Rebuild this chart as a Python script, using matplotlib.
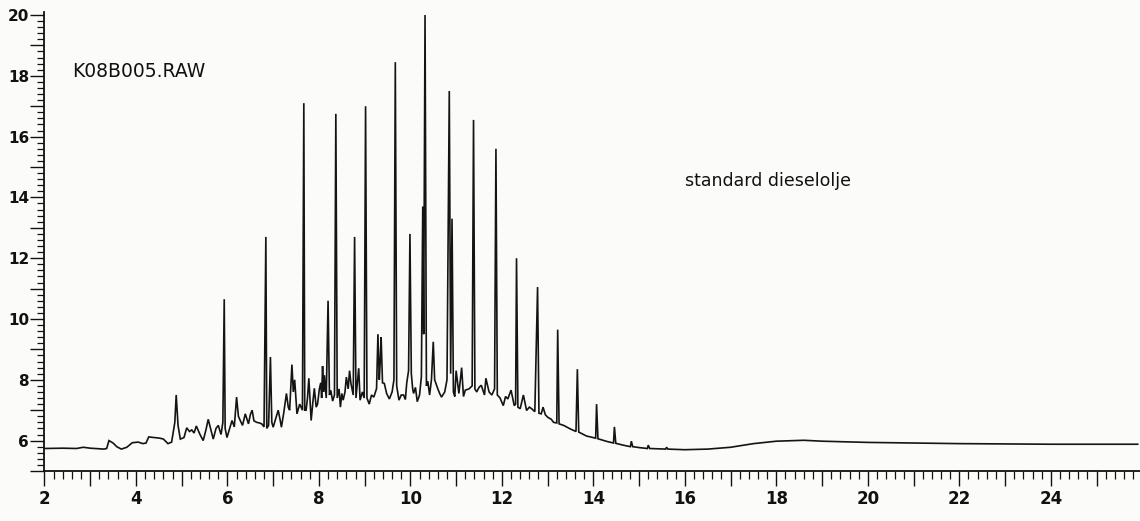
import matplotlib
matplotlib.use("Agg")
import matplotlib.pyplot as plt
from matplotlib.ticker import MultipleLocator, FuncFormatter

# chromatogram trace: retention time (min) and signal
retention_time = [
    2.00, 2.40, 2.70, 2.85, 3.00, 3.30, 3.36, 3.41, 3.50, 3.58, 3.68, 3.80, 3.92, 4.05,
    4.15, 4.22, 4.28, 4.40, 4.52, 4.60, 4.70, 4.78, 4.85, 4.88, 4.92, 4.97, 5.05, 5.11,
    5.17, 5.22, 5.27, 5.32, 5.40, 5.47, 5.53, 5.58, 5.63, 5.69, 5.75, 5.80, 5.86, 5.90,
    5.93, 5.95, 5.99, 6.04, 6.10, 6.15, 6.20, 6.24, 6.28, 6.33, 6.39, 6.46, 6.50, 6.54,
    6.58, 6.64, 6.70, 6.75, 6.80, 6.84, 6.86, 6.90, 6.94, 6.97, 7.00, 7.05, 7.11, 7.15,
    7.18, 7.23, 7.29, 7.33, 7.36, 7.41, 7.44, 7.47, 7.52, 7.58, 7.64, 7.67, 7.69, 7.72,
    7.75, 7.78, 7.83, 7.87, 7.90, 7.94, 7.97, 8.01, 8.04, 8.06, 8.08, 8.10, 8.12, 8.16,
    8.20, 8.23, 8.26, 8.30, 8.34, 8.37, 8.40, 8.44, 8.47, 8.50, 8.53, 8.57, 8.60, 8.64,
    8.67, 8.70, 8.75, 8.78, 8.81, 8.84, 8.87, 8.90, 8.95, 8.99, 9.02, 9.05, 9.10, 9.15,
    9.20, 9.26, 9.29, 9.32, 9.34, 9.36, 9.39, 9.43, 9.48, 9.54, 9.60, 9.64, 9.67, 9.70,
    9.75, 9.80, 9.85, 9.89, 9.92, 9.96, 9.99, 10.02, 10.05, 10.07, 10.11, 10.15, 10.20,
    10.24, 10.27, 10.29, 10.32, 10.35, 10.38, 10.42, 10.46, 10.50, 10.53, 10.60, 10.64,
    10.68, 10.75, 10.80, 10.85, 10.88, 10.91, 10.94, 10.97, 11.00, 11.06, 11.12, 11.16,
    11.20, 11.28, 11.35, 11.38, 11.41, 11.45, 11.50, 11.55, 11.62, 11.65, 11.72, 11.78,
    11.84, 11.87, 11.90, 11.96, 12.03, 12.08, 12.13, 12.20, 12.27, 12.30, 12.32, 12.35,
    12.40, 12.47, 12.54, 12.60, 12.65, 12.72, 12.78, 12.81, 12.86, 12.90, 12.95, 13.00,
    13.08, 13.13, 13.20, 13.22, 13.25, 13.35, 13.50, 13.62, 13.65, 13.68, 13.85, 14.05,
    14.07, 14.10, 14.30, 14.44, 14.46, 14.49, 14.65, 14.81, 14.83, 14.86, 15.00, 15.18,
    15.20, 15.23, 15.40, 15.58, 15.60, 15.63, 16.00, 16.50, 17.00, 17.50, 18.00, 18.60,
    19.00, 20.00, 21.00, 22.00, 24.00, 25.90,
]
signal = [
    5.74, 5.75, 5.74, 5.78, 5.75, 5.72, 5.74, 6.00, 5.92, 5.80, 5.72, 5.78, 5.93, 5.95,
    5.90, 5.92, 6.12, 6.10, 6.08, 6.05, 5.90, 5.95, 6.60, 7.50, 6.50, 6.05, 6.10, 6.42,
    6.30, 6.35, 6.25, 6.48, 6.20, 6.00, 6.35, 6.70, 6.40, 6.05, 6.40, 6.50, 6.20, 6.60,
    10.65, 6.40, 6.10, 6.35, 6.66, 6.45, 7.43, 6.80, 6.66, 6.50, 6.88, 6.55, 6.85, 7.00,
    6.65, 6.60, 6.58, 6.55, 6.45, 12.70, 6.40, 6.50, 8.75, 6.60, 6.44, 6.70, 7.00, 6.70,
    6.44, 6.90, 7.55, 7.10, 7.00, 8.50, 7.60, 8.00, 6.88, 7.20, 7.00, 17.10, 7.00, 7.00,
    7.40, 8.05, 6.66, 7.30, 7.72, 7.10, 7.20, 7.70, 7.90, 7.40, 8.45, 7.60, 8.15, 7.40,
    10.60, 7.50, 7.65, 7.30, 7.50, 16.75, 7.40, 7.70, 7.10, 7.55, 7.33, 7.60, 8.09, 7.70,
    8.30, 7.88, 7.50, 12.70, 7.40, 7.90, 8.38, 7.33, 7.60, 7.40, 17.00, 7.40, 7.20, 7.50,
    7.43, 7.71, 9.50, 8.00, 8.60, 9.40, 7.90, 7.88, 7.55, 7.37, 7.60, 8.00, 18.45, 7.80,
    7.33, 7.50, 7.50, 7.35, 7.90, 8.30, 12.80, 8.20, 7.70, 7.55, 7.75, 7.28, 7.50,
    8.10, 13.70, 9.50, 20.00, 7.80, 7.95, 7.50, 8.00, 9.25, 8.00, 7.70, 7.55,
    7.43, 7.60, 8.00, 17.50, 8.20, 13.30, 7.60, 7.45, 8.30, 7.55, 8.40, 7.45,
    7.66, 7.70, 7.80, 16.55, 7.70, 7.60, 7.75, 7.82, 7.50, 8.05, 7.60, 7.50,
    7.70, 15.60, 7.50, 7.40, 7.15, 7.45, 7.37, 7.66, 7.15, 7.20, 12.00, 7.10,
    7.05, 7.50, 6.99, 7.10, 7.05, 6.95, 11.05, 6.90, 6.88, 7.10, 6.85, 6.77,
    6.70, 6.60, 6.58, 9.65, 6.55, 6.50, 6.38, 6.30, 8.35, 6.28, 6.15, 6.08,
    7.20, 6.06, 5.97, 5.92, 6.45, 5.91, 5.85, 5.80, 5.98, 5.80, 5.77, 5.74,
    5.85, 5.74, 5.73, 5.72, 5.78, 5.72, 5.70, 5.72, 5.78, 5.90, 5.98, 6.01,
    5.98, 5.94, 5.92, 5.90, 5.88, 5.88,
]

x_labels = ["2", "4", "6", "8", "10", "12", "14", "16", "18", "20", "22", "24"]
y_labels = ["6", "8", "10", "12", "14", "16", "18", "20"]

sample_name = "K08B005.RAW"
sample_note = "standard dieselolje"

fig = plt.figure(figsize=(11.4, 5.21), dpi=100)
fig.patch.set_facecolor("#fbfbfa")
ax = fig.add_axes([0.039, 0.096, 0.961, 0.881])
ax.set_facecolor("#fbfbfa")

ax.plot(retention_time, signal, color="#141414", lw=1.2, solid_joinstyle="miter")

ax.set_xlim(2, 25.95)
ax.set_ylim(5, 20.1)

ax.xaxis.set_major_locator(MultipleLocator(1))
ax.xaxis.set_minor_locator(MultipleLocator(0.2))
ax.yaxis.set_major_locator(MultipleLocator(1))
ax.yaxis.set_minor_locator(MultipleLocator(0.2))

# label only the even integers
ax.xaxis.set_major_formatter(FuncFormatter(
    lambda v, p: str(int(round(v))) if str(int(round(v))) in x_labels else ""))
ax.yaxis.set_major_formatter(FuncFormatter(
    lambda v, p: str(int(round(v))) if str(int(round(v))) in y_labels else ""))

for s in ["top", "right"]:
    ax.spines[s].set_visible(False)
for s in ["left", "bottom"]:
    ax.spines[s].set_linewidth(1.3)
    ax.spines[s].set_color("#111111")

ax.tick_params(axis="x", which="major", length=11, width=1.0, pad=3,
               labelsize=12, colors="#111111")
ax.tick_params(axis="x", which="minor", length=6, width=0.9, colors="#111111")
ax.tick_params(axis="y", which="major", length=10, width=1.0, pad=1,
               labelsize=11, colors="#111111")
ax.tick_params(axis="y", which="minor", length=5, width=0.9, colors="#111111")
for lbl in ax.get_xticklabels() + ax.get_yticklabels():
    lbl.set_fontweight("bold")

ax.text(2.6, 18.15, sample_name, fontsize=13.5, va="center", ha="left", color="#111111")
ax.text(16.0, 14.55, sample_note, fontsize=12.5, va="center", ha="left", color="#111111")

fig.savefig("out.png", dpi=100, facecolor=fig.get_facecolor())
